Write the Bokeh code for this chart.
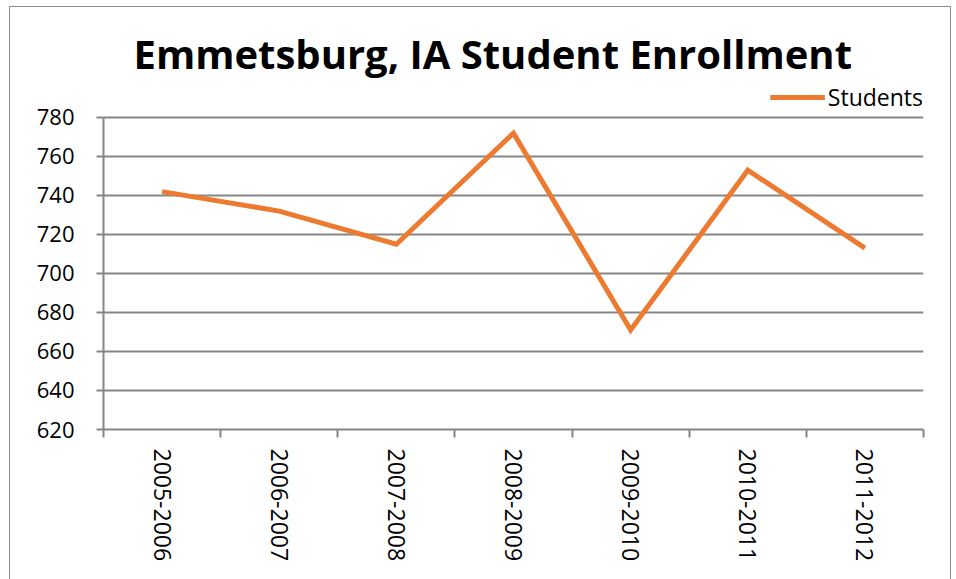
import math
from bokeh.plotting import figure
from bokeh.models import FixedTicker, Range1d, Legend, LegendItem
from bokeh.embed import file_html
from bokeh.resources import INLINE

title_text = "Emmetsburg, IA Student Enrollment"
years = ["2005-2006", "2006-2007", "2007-2008", "2008-2009", "2009-2010", "2010-2011", "2011-2012"]
students = [742, 732, 715, 772, 671, 753, 713]
y_ticks = [620, 640, 660, 680, 700, 720, 740, 760, 780]
series_name = "Students"

FONT = "Open Sans"
GRAY = "#868686"
ORANGE = "#EC7A30"

centers = [i + 0.5 for i in range(len(years))]
bounds = list(range(len(years) + 1))

# headroom above the top tick so the legend sits above the 780 gridline
Y_TOP = 798.46

p = figure(width=940, height=572, output_backend="svg", toolbar_location=None,
           x_range=Range1d(0, len(years)), y_range=Range1d(y_ticks[0], Y_TOP),
           min_border_left=93, min_border_right=27, min_border_top=74, min_border_bottom=150)
p.styles = {"margin-left": "10px", "margin-top": "7px",
            "box-shadow": "0px 0px 0px 1px #8c8c8c"}
p.outline_line_color = None
p.background_fill_color = "white"
p.border_fill_color = "white"

p.title.text = title_text
p.title.text_font = FONT
p.title.text_font_style = "bold"
p.title.text_font_size = "40px"
p.title.align = "left"
p.title.offset = 30
p.title.text_color = "black"
p.title.standoff = 2

r = p.line(centers, students, line_color=ORANGE, line_width=5, line_join="miter")

# x axis
xa = p.xaxis[0]
xa.ticker = FixedTicker(ticks=centers, minor_ticks=bounds)
xa.major_label_overrides = {c: y for c, y in zip(centers, years)}
xa.major_label_orientation = -math.pi / 2
xa.major_tick_line_color = None
xa.minor_tick_line_color = GRAY
xa.minor_tick_line_width = 2
xa.minor_tick_out = 8
xa.minor_tick_in = 0
xa.axis_line_color = GRAY
xa.axis_line_width = 2
xa.major_label_text_font = FONT
xa.major_label_text_font_size = "23px"
xa.major_label_text_color = "black"
xa.major_label_standoff = 11

ya = p.yaxis[0]
ya.ticker = FixedTicker(ticks=y_ticks)
ya.bounds = (y_ticks[0], y_ticks[-1])
ya.minor_tick_line_color = None
ya.major_tick_line_color = GRAY
ya.major_tick_line_width = 2
ya.major_tick_out = 7
ya.major_tick_in = 0
ya.axis_line_color = GRAY
ya.axis_line_width = 2
ya.major_label_text_font = FONT
ya.major_label_text_font_size = "22px"
ya.major_label_text_color = "black"
ya.major_label_standoff = 22

p.xgrid.grid_line_color = None
p.ygrid.ticker = FixedTicker(ticks=y_ticks[1:])
p.ygrid.grid_line_color = GRAY
p.ygrid.grid_line_width = 2

legend = Legend(items=[LegendItem(label=series_name, renderers=[r])],
                location="top_right", orientation="horizontal",
                background_fill_alpha=0, border_line_color=None,
                glyph_width=55, glyph_height=18, label_standoff=3, label_height=18,
                padding=0, margin=0, spacing=0,
                label_text_font=FONT, label_text_font_size="23px", label_text_color="black")
p.add_layout(legend, "center")

open("out.html", "w").write(file_html(p, INLINE))
